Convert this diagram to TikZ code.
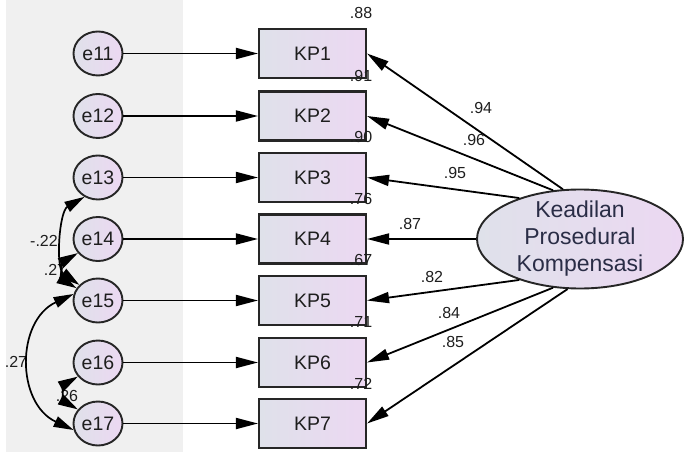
\documentclass[tikz,border=0pt]{standalone}
\usepackage{fontspec}
\setmainfont{Liberation Sans}
\usetikzlibrary{shapes.geometric,arrows.meta}
\definecolor{bgray}{HTML}{F0F0F0}
\definecolor{fillL}{HTML}{DFE1EA}
\definecolor{fillR}{HTML}{ECD8F2}
\definecolor{txt}{HTML}{1E1E1E}
\definecolor{ftxt}{HTML}{2A2D46}
\definecolor{bord}{HTML}{262626}
\begin{document}
\begin{tikzpicture}[x=1pt,y=1pt,
  errc/.style={ellipse, draw=bord, line width=1.9pt, minimum width=49pt, minimum height=44pt,
    inner sep=0pt, left color=fillL, right color=fillR, text=txt, font=\fontsize{19.5}{22}\selectfont},
  obs/.style={rectangle, draw=bord, line width=2.1pt, minimum width=107pt, minimum height=49pt,
    inner sep=0pt, left color=fillL, right color=fillR, text=txt, font=\fontsize{19.5}{22}\selectfont},
  latent/.style={ellipse, draw=bord, line width=1.9pt, minimum width=206pt, minimum height=99pt,
    inner sep=0pt, left color=fillL, right color=fillR},
  ftext/.style={align=center, text=ftxt, inner sep=0pt, font=\fontsize{23}{27}\selectfont},
  pathline/.style={-{Triangle[length=22pt,width=11pt]}, line width=1.8pt, black},
  cov/.style={{Triangle[length=20pt,width=11pt]}-{Triangle[length=20pt,width=11pt]}, line width=1.7pt, black},
  coef/.style={font=\fontsize{16}{18}\selectfont, text=txt, inner sep=0pt}
]
\useasboundingbox (0,0) rectangle (684,-454);
\fill[bgray] (6,0) rectangle (183,-452);

% error terms
\node[errc] (e11) at (98,-53.5) {e11};
\node[errc] (e12) at (98,-116) {e12};
\node[errc] (e13) at (98,-177.5) {e13};
\node[errc] (e14) at (98,-239) {e14};
\node[errc] (e15) at (98,-300.5) {e15};
\node[errc] (e16) at (98,-362.5) {e16};
\node[errc] (e17) at (98,-423.5) {e17};

% observed
\node[obs] (KP1) at (312.5,-53.5) {KP1};
\node[obs] (KP2) at (312.5,-116) {KP2};
\node[obs] (KP3) at (312.5,-177.5) {KP3};
\node[obs] (KP4) at (312.5,-239) {KP4};
\node[obs] (KP5) at (312.5,-300.5) {KP5};
\node[obs] (KP6) at (312.5,-362.5) {KP6};
\node[obs] (KP7) at (312.5,-423.5) {KP7};

% latent
\node[latent] (F) at (580,-239) {};
\node[ftext] (Ft) at (F.center) {Keadilan\\Prosedural\\Kompensasi};

% error paths
\foreach \i in {1,...,7} {
  \draw[pathline] (e1\i) -- (KP\i);
}

% loadings
\draw[pathline] (F.109) -- (KP1.east);
\draw[pathline] (F.119) -- (KP2.east);
\draw[pathline] (F.146) -- (KP3.east);
\draw[pathline] (F.180) -- (KP4.east);
\draw[pathline] (F.214) -- (KP5.east);
\draw[pathline] (F.241) -- (KP6.east);
\draw[pathline] (F.256) -- (KP7.east);

% loading labels
\node[coef] (l1) at (481,-108) {.94};
\node[coef] (l2) at (474,-140) {.96};
\node[coef] (l3) at (455,-173) {.95};
\node[coef] (l4) at (410,-224) {.87};
\node[coef] (l5) at (432,-277) {.82};
\node[coef] (l6) at (449,-313) {.84};
\node[coef] (l7) at (453,-342) {.85};

% R2 labels
\node[coef] (r1) at ([xshift=-6pt,yshift=14.5pt]KP1.north east) {.88};
\node[coef] (r2) at ([xshift=-6pt,yshift=14.5pt]KP2.north east) {.91};
\node[coef] (r3) at ([xshift=-6pt,yshift=14.5pt]KP3.north east) {.90};
\node[coef] (r4) at ([xshift=-6pt,yshift=14.5pt]KP4.north east) {.76};
\node[coef] (r5) at ([xshift=-6pt,yshift=14.5pt]KP5.north east) {.67};
\node[coef] (r6) at ([xshift=-6pt,yshift=14.5pt]KP6.north east) {.71};
\node[coef] (r7) at ([xshift=-6pt,yshift=14.5pt]KP7.north east) {.72};

% covariance labels (partly hidden by arrowheads)
\node[coef] (c1) at (44,-241) {-.22};
\node[coef] (c2) at (55,-270) {.27};
\node[coef] (c3) at (16,-362) {.27};
\node[coef] (c4) at (67,-396) {.26};

% covariances
\draw[cov] (e13.235) to[out=210,in=145,looseness=0.85] (e15.140);
\draw[cov] (e14.215) to[out=210,in=150,looseness=1.3] (e15.150);
\draw[cov] (e15.165) to[out=205,in=155,looseness=1.2] (e17.195);
\draw[cov] (e16.215) to[out=210,in=150,looseness=1.3] (e17.145);
\end{tikzpicture}
\end{document}
